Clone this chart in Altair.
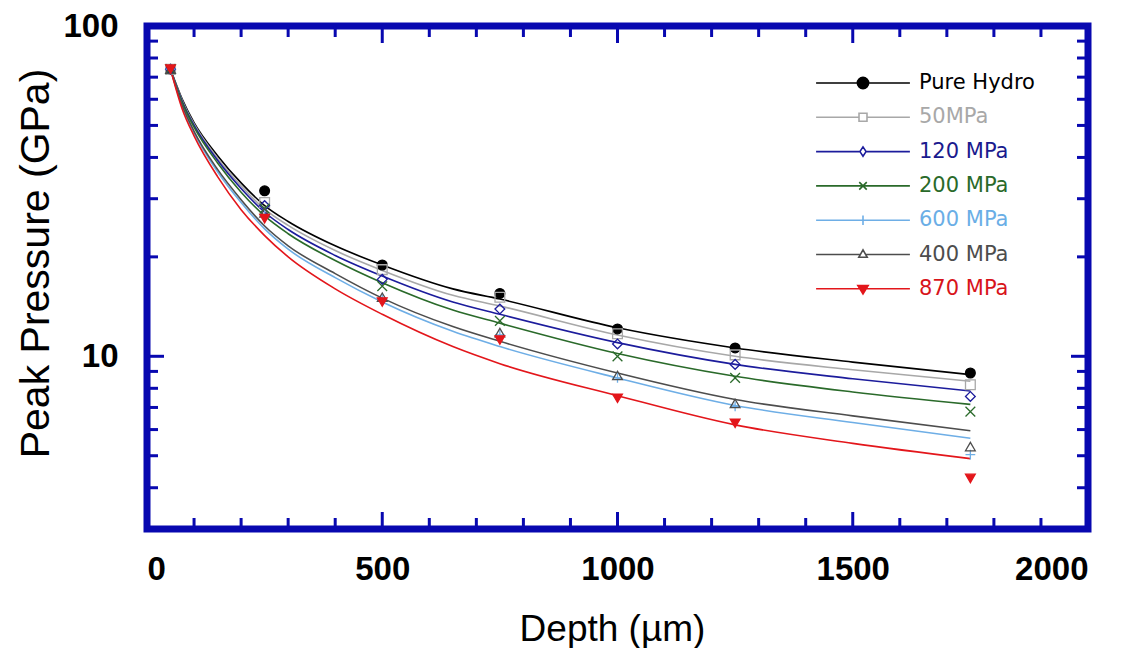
import altair as alt
import pandas as pd

# ---------------- data ----------------
series = ["Pure Hydro", "50MPa", "120 MPa", "200 MPa", "600 MPa", "400 MPa", "870 MPa"]
colors = ["#000000", "#a8a8a8", "#1c1c9c", "#2a6a2a", "#6eaee6", "#4d4d4d", "#e3161b"]
label_colors = ["#000000", "#a8a8a8", "#1a1a8e", "#2a6a2a", "#6aaee6", "#4d4d4d", "#d8141a"]

curve_x = [50, 75, 100, 150, 200, 250, 300, 400, 500, 650, 750, 1000, 1250, 1500, 1750]
curve_hydro = [74, 60, 51, 40.5, 33.5, 28.6, 25.6, 21.6, 18.9, 16.0, 14.9, 12.2, 10.6, 9.6, 8.8]
curve_50 = [74, 59.5, 50.5, 39.8, 32.8, 27.9, 24.9, 20.9, 18.2, 15.3, 14.2, 11.6, 10.0, 9.1, 8.4]
curve_120 = [74, 59, 50, 39.2, 32.2, 27.3, 24.2, 20.2, 17.5, 14.6, 13.4, 11.0, 9.45, 8.55, 7.85]
curve_200 = [74, 58.5, 49.4, 38.5, 31.4, 26.6, 23.5, 19.5, 16.7, 13.8, 12.6, 10.2, 8.7, 7.8, 7.15]
curve_600 = [74, 57, 47.5, 36.2, 29.2, 24.3, 21.1, 17.3, 14.6, 11.9, 10.7, 8.6, 7.1, 6.3, 5.65]
curve_400 = [74, 57.5, 48, 36.8, 29.8, 24.8, 21.6, 17.8, 15.0, 12.3, 11.1, 8.9, 7.4, 6.6, 5.95]
curve_870 = [74, 56, 46.5, 35, 27.8, 23.2, 20.0, 16.0, 13.4, 10.7, 9.5, 7.6, 6.2, 5.45, 4.9]

marker_x = [50, 250, 500, 750, 1000, 1250, 1750]
marker_hydro = [74, 31.7, 18.9, 15.5, 12.1, 10.6, 8.9]
marker_50 = [74, 29.2, 18.3, 15.1, 11.7, 10.1, 8.2]
marker_120 = [74, 28.6, 17.1, 13.9, 10.9, 9.45, 7.56]
marker_200 = [74, 28.0, 16.3, 12.8, 10.0, 8.6, 6.8]
marker_600 = [74, 26.8, 14.9, 11.6, 8.6, 7.05, 5.04]
marker_400 = [74, 27.2, 15.1, 11.8, 8.75, 7.2, 5.33]
marker_870 = [74, 26.1, 14.6, 11.2, 7.46, 6.27, 4.27]

x_minor_ticks = [100, 200, 300, 400, 600, 700, 800, 900, 1100, 1200, 1300, 1400, 1600, 1700, 1800, 1900]
x_major_ticks = [500, 1000, 1500]
y_minor_ticks = [4, 5, 6, 7, 8, 9, 20, 30, 40, 50, 60, 70, 80, 90]
y_major_ticks = [10]

# ---------------- tables ----------------
curves = [curve_hydro, curve_50, curve_120, curve_200, curve_600, curve_400, curve_870]
markers = [marker_hydro, marker_50, marker_120, marker_200, marker_600, marker_400, marker_870]

curve_rows = []
for s, vals in zip(series, curves):
    for xv, yv in zip(curve_x, vals):
        curve_rows.append({"series": s, "depth": xv, "pressure": yv})
curve_df = pd.DataFrame(curve_rows)

marker_rows = []
for s, vals in zip(series, markers):
    for xv, yv in zip(marker_x, vals):
        marker_rows.append({"series": s, "depth": xv, "pressure": yv})
marker_df = pd.DataFrame(marker_rows)

W, H = 941, 503
FRAME = "#0808b0"
FONT = "Liberation Sans"

point_shapes = [
    "circle",
    "square",
    "diamond",
    "M-1,-1L1,1M-1,1L1,-1",
    "M-1,0L1,0M0,-1L0,1",
    "triangle-up",
    "triangle-down",
]
point_fills = ["#000000", "transparent", "transparent", "transparent", "transparent", "transparent", "#e3161b"]

legend_paths = [
    "M-1,0H1M-0.12,0A0.12,0.12 0 1,0 0.12,0A0.12,0.12 0 1,0 -0.12,0Z",
    "M-1,0H-0.085M0.085,0H1M-0.085,-0.085H0.085V0.085H-0.085Z",
    "M-1,0H-0.065M0.065,0H1M0,-0.1L0.065,0L0,0.1L-0.065,0Z",
    "M-1,0H1M-0.08,-0.08L0.08,0.08M-0.08,0.08L0.08,-0.08",
    "M-1,0H1M0,-0.1V0.1",
    "M-1,0H-0.06M0.06,0H1M-0.09,0.06L0.09,0.06L0,-0.1Z",
    "M-1,0H1M-0.11,-0.07L0.11,-0.07L0,0.11Z",
]


def pick_expr(values, field="datum.label"):
    parts = []
    for s, v in zip(series[:-1], values[:-1]):
        parts.append(f"{field} == '{s}' ? '{v}' : ")
    return "".join(parts) + f"'{values[-1]}'"


x_scale = alt.Scale(domain=[0, 2000], nice=False, zero=False)
y_scale = alt.Scale(type="log", domain=[3, 100], nice=False)

x_axis = alt.Axis(
    values=[0, 500, 1000, 1500, 2000], ticks=False, domain=False, grid=False, format="d",
    labelFont=FONT, labelFontSize=33, labelFontWeight="bold", labelColor="#000",
    labelPadding=24, title="Depth (µm)", titleFont=FONT, titleFontSize=37,
    titleFontWeight="normal", titleColor="#000", titleX=465, titleY=111,
    titleBaseline="alphabetic",
)
y_axis = alt.Axis(
    values=[10, 100], ticks=False, domain=False, grid=False, format="d",
    labelFont=FONT, labelFontSize=33, labelFontWeight="bold", labelColor="#000",
    labelPadding=29, title="Peak Pressure (GPa)", titleFont=FONT, titleFontSize=41,
    titleFontWeight="normal", titleColor="#000", titleX=-99, titleY=237,
    titleBaseline="alphabetic",
)

lines = alt.Chart(curve_df).mark_line(interpolate="monotone", strokeWidth=1.6).encode(
    x=alt.X("depth:Q", scale=x_scale, axis=x_axis),
    y=alt.Y("pressure:Q", scale=y_scale, axis=y_axis),
    color=alt.Color(
        "series:N",
        sort=series,
        scale=alt.Scale(domain=series, range=colors),
        legend=alt.Legend(
            title=None,
            orient="none",
            legendX=668,
            legendY=41,
            padding=0,
            symbolType={"expr": pick_expr(legend_paths, "datum.value")},
            symbolSize=8800,
            symbolStrokeWidth=1.6,
            symbolFillColor={"expr": pick_expr(point_fills, "datum.value")},
            symbolOpacity=1,
            labelColor={"expr": pick_expr(label_colors)},
            labelFont="DejaVu Sans",
            labelFontSize=21,
            labelOffset=8,
            clipHeight=32,
            rowPadding=2.3,
        ),
    ),
    order=alt.Order("depth:Q"),
)

points = alt.Chart(marker_df).mark_point(filled=False, strokeWidth=1.3, opacity=1).encode(
    x=alt.X("depth:Q", scale=x_scale, axis=x_axis),
    y=alt.Y("pressure:Q", scale=y_scale, axis=y_axis),
    stroke=alt.Stroke("series:N", scale=alt.Scale(domain=series, range=colors), legend=None),
    fill=alt.Fill("series:N", scale=alt.Scale(domain=series, range=point_fills), legend=None),
    shape=alt.Shape("series:N", scale=alt.Scale(domain=series, range=point_shapes), legend=None),
    size=alt.value(95),
)

xmin_df = pd.DataFrame({"t": x_minor_ticks})
xmaj_df = pd.DataFrame({"t": x_major_ticks})
ymin_df = pd.DataFrame({"t": y_minor_ticks})
ymaj_df = pd.DataFrame({"t": y_major_ticks})


def xticks(df, length):
    base = alt.Chart(df).mark_rule(color=FRAME, strokeWidth=3)
    bottom = base.encode(x=alt.X("t:Q", scale=x_scale, axis=x_axis), y=alt.value(H), y2=alt.value(H - length))
    top = base.encode(x=alt.X("t:Q", scale=x_scale, axis=x_axis), y=alt.value(0), y2=alt.value(length))
    return [bottom, top]


def yticks(df, length):
    base = alt.Chart(df).mark_rule(color=FRAME, strokeWidth=3)
    left = base.encode(y=alt.Y("t:Q", scale=y_scale, axis=y_axis), x=alt.value(0), x2=alt.value(length))
    right = base.encode(y=alt.Y("t:Q", scale=y_scale, axis=y_axis), x=alt.value(W), x2=alt.value(W - length))
    return [left, right]


tick_layers = xticks(xmin_df, 11) + xticks(xmaj_df, 17) + yticks(ymin_df, 11) + yticks(ymaj_df, 17)

chart = alt.layer(lines, points, *tick_layers).resolve_scale(
    stroke="independent", fill="independent", shape="independent"
).properties(
    width=W,
    height=H,
    autosize=alt.AutoSizeParams(type="none"),
    padding={"left": 139, "top": 18, "right": 35, "bottom": 119},
    background="white",
).configure_view(stroke=FRAME, strokeWidth=7)

chart.save("out.html", embed_options={"renderer": "svg", "actions": False})
